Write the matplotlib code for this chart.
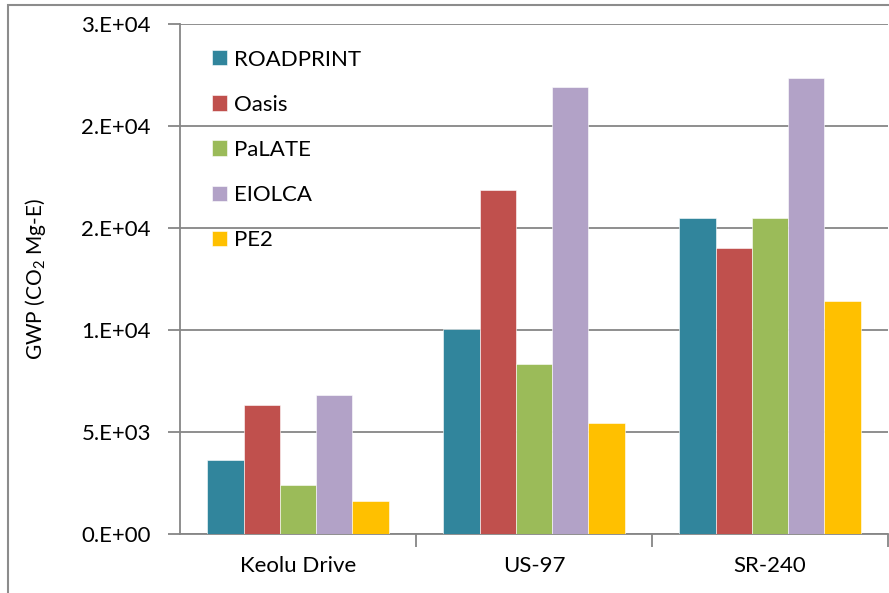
import numpy as np
import matplotlib.pyplot as plt
from matplotlib.patches import Rectangle

plt.rcParams['font.family'] = ['Lato', 'DejaVu Sans']
plt.rcParams['mathtext.default'] = 'regular'

# data
sites = ['Keolu Drive', 'US-97', 'SR-240']
tools = ['ROADPRINT', 'Oasis', 'PaLATE', 'EIOLCA', 'PE2']
roadprint = [3650, 10060, 15500]
oasis = [6310, 16870, 14030]
palate = [2410, 8350, 15490]
eiolca = [6830, 21900, 22370]
pe2 = [1640, 5460, 11400]
colors = ['#31859C', '#C0504D', '#9BBB59', '#B2A2C7', '#FFC000']
yticks = [0, 5000, 10000, 15000, 20000, 25000]
ytick_labels = ['0.E+00', '5.E+03', '1.E+04', '2.E+04', '2.E+04', '3.E+04']

series = [roadprint, oasis, palate, eiolca, pe2]

fig = plt.figure(figsize=(8.89, 5.93), dpi=100)
ax = fig.add_axes([180/889, 59/593, 708/889, 510/593])

# outer chart frame (cut off at right and bottom like the original)
fig.patches.append(Rectangle((8/889, -0.1), 1.2, 0.1 + 587.5/593, transform=fig.transFigure,
                             fill=False, edgecolor='#8c8c8c', linewidth=1.5))

x = np.arange(len(sites))
w = 0.1534
for i in range(len(series)):
    ax.bar(x + (i - 2) * w, series[i], width=w, color=colors[i], label=tools[i],
           edgecolor='white', linewidth=0.4, zorder=3)

ax.set_xlim(-0.5, 2.5)
ax.set_ylim(0, 25000)
ax.set_yticks(yticks)
ax.set_yticklabels(ytick_labels, fontsize=16)
ax.set_xticks(x)
ax.set_xticklabels(sites, fontsize=16)
ax.set_xticks([0.5, 1.5, 2.5], minor=True)
ax.tick_params(axis='x', which='major', length=0, pad=16)
ax.tick_params(axis='x', which='minor', length=9, width=1.3, color='#868686', direction='out')
ax.tick_params(axis='y', length=9, width=1.3, color='#868686', direction='out', pad=12)

ax.grid(axis='y', color='#868686', linewidth=1.3, zorder=0)
for s in ['top', 'right']:
    ax.spines[s].set_visible(False)
for s in ['left', 'bottom']:
    ax.spines[s].set_color('#868686')
    ax.spines[s].set_linewidth(1.3)

ax.set_ylabel('GWP (CO$_2$ Mg-E)', fontsize=15)
ax.yaxis.set_label_coords(-0.186, 0.5)

ax.legend(loc='upper left', bbox_to_anchor=(0.017, 0.989), frameon=False, fontsize=16,
          handlelength=0.68, handleheight=0.68, handletextpad=0.32, labelspacing=1.13)

plt.savefig('out.png', dpi=100)
